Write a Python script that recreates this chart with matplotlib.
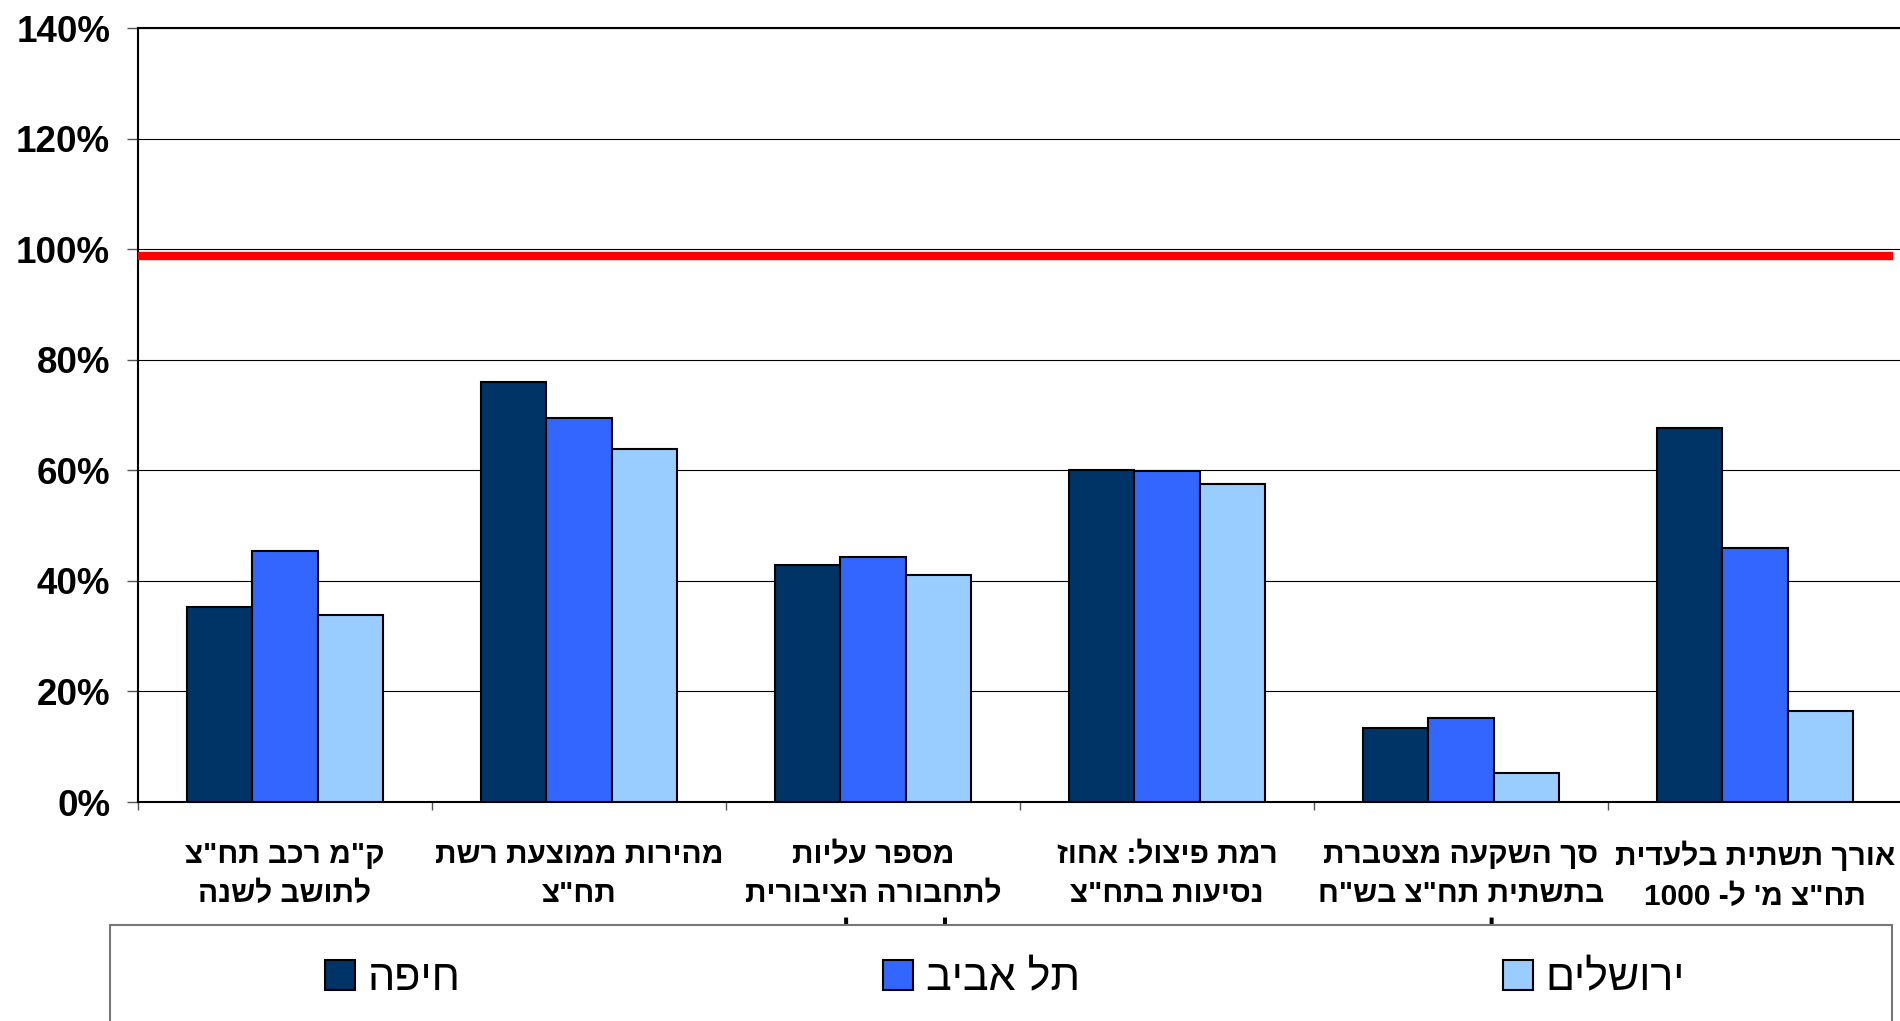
import re
import numpy as np
import matplotlib
matplotlib.use("Agg")
import matplotlib.pyplot as plt
from matplotlib.patches import Rectangle

plt.rcParams['font.family'] = ['Liberation Sans', 'DejaVu Sans']

categories = [
    "ק\"מ רכב תח\"צ\nלתושב לשנה",
    "מהירות ממוצעת רשת\nתח\"צ",
    "מספר עליות\nלתחבורה הציבורית\nלתושב לשנה",
    "רמת פיצול: אחוז\nנסיעות בתח\"צ",
    "סך השקעה מצטברת\nבתשתית תח\"צ בש\"ח\nלתושב",
    "אורך תשתית בלעדית\nתח\"צ מ' ל- 1000\nתושב",
]
cities = ["חיפה", "תל אביב", "ירושלים"]
haifa = [35.3, 75.9, 42.9, 60.0, 13.4, 67.7]
tel_aviv = [45.4, 69.5, 44.4, 59.8, 15.2, 46.0]
jerusalem = [33.9, 63.9, 41.0, 57.6, 5.2, 16.4]
benchmark = 98.8
yticks = [0, 20, 40, 60, 80, 100, 120, 140]
colors = ["#003366", "#3366FF", "#99CCFF"]


def rtl(text):
    # no bidi in matplotlib: flip every line, put digit runs back in order
    out = []
    for line in text.split("\n"):
        flipped = line[::-1]
        flipped = re.sub(r"[0-9]+", lambda m: m.group(0)[::-1], flipped)
        out.append(flipped)
    return "\n".join(out)


fig = plt.figure(figsize=(19, 10.21), dpi=100)
ax = fig.add_axes([138 / 1900, 1 - 802 / 1021, 1764 / 1900, 774 / 1021])

x = np.arange(len(categories))
w = 0.222
bars = []
for i, vals in enumerate([haifa, tel_aviv, jerusalem]):
    b = ax.bar(x + (i - 1) * w, vals, w, color=colors[i], edgecolor="black",
               linewidth=1.5, label=rtl(cities[i]), zorder=3)
    bars.append(b)

# the 100% benchmark line
ax.axhline(benchmark, xmin=0, xmax=0.995, color="#FF0000", lw=6,
           solid_capstyle="butt", zorder=4)

ax.set_xlim(-0.5, len(categories) - 0.5)
ax.set_ylim(0, 140)
ax.set_yticks(yticks)
ax.set_yticklabels([str(t) + "%" for t in yticks], fontsize=26.5,
                   fontweight="bold")
ax.yaxis.grid(True, color="black", lw=0.8)
ax.set_axisbelow(True)

ax.set_xticks(x)
ax.set_xticklabels([rtl(c) for c in categories], fontsize=21.5,
                   fontweight="bold", linespacing=1.52)
ax.set_xticks(np.arange(len(categories) + 1) - 0.5, minor=True)
ax.tick_params(axis="x", which="major", length=0, pad=28)
ax.tick_params(axis="x", which="minor", length=6, width=1, color="#555555")
ax.tick_params(axis="y", length=8, width=1, color="#555555", pad=12)

for s in ["left", "bottom", "top"]:
    ax.spines[s].set_linewidth(1.5)
    ax.spines[s].set_color("black")
ax.spines["right"].set_visible(False)

# legend box, covers the bottom of the long labels like the original
frame = Rectangle((110 / 1900, -0.05), 1782 / 1900, 0.05 + 96 / 1021,
                  transform=fig.transFigure, facecolor="white",
                  edgecolor="#777777", lw=1.5, zorder=5, clip_on=False)
fig.add_artist(frame)

leg = fig.legend(handles=bars, labels=[rtl(c) for c in cities], loc="center",
                 bbox_to_anchor=(325 / 1900, 0.041 - 0.02, 1360 / 1900, 0.04),
                 mode="expand", ncol=3, frameon=False, fontsize=31,
                 handlelength=0.7, handleheight=0.7, handletextpad=0.3,
                 borderaxespad=0, borderpad=0)
leg.set_zorder(6)

fig.savefig("out.png", dpi=100)
